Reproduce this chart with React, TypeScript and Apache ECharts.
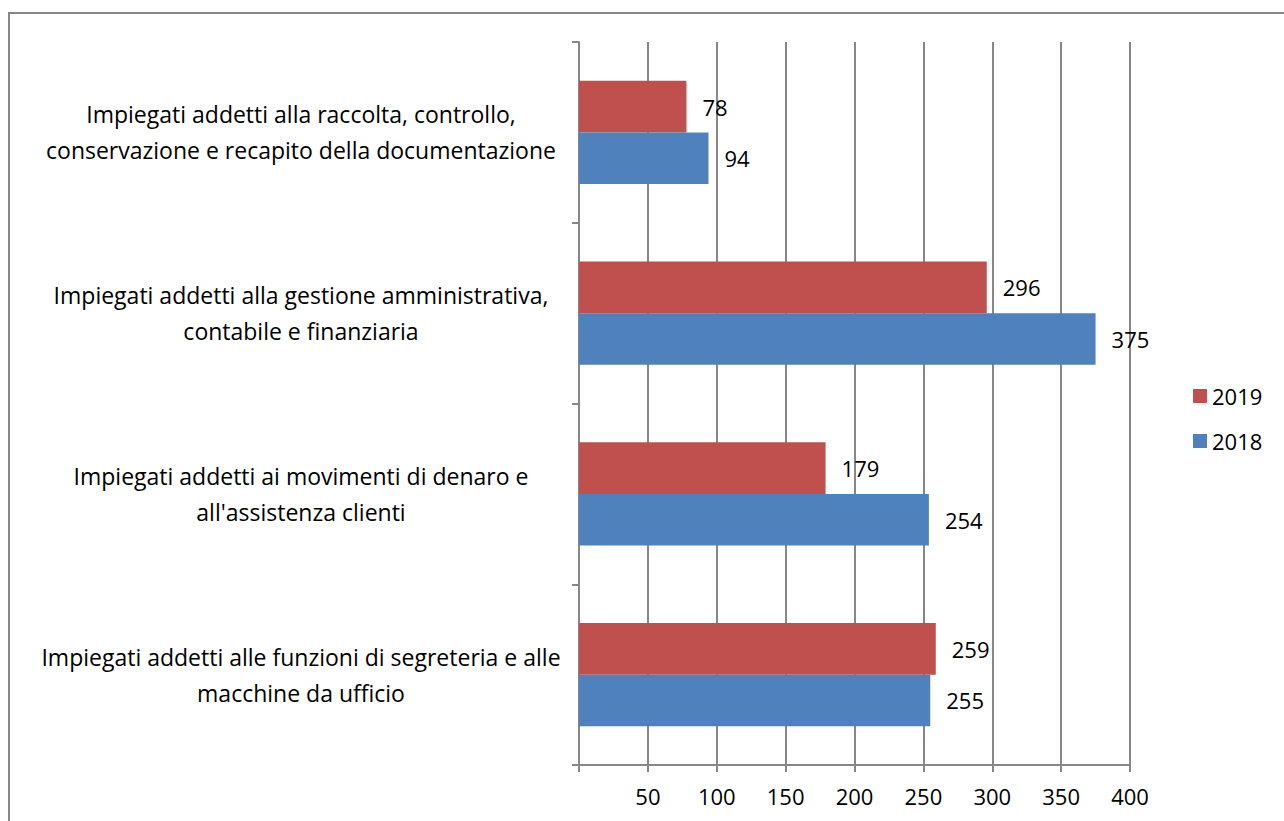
import React, { useEffect, useRef } from "react";
import * as echarts from "echarts";

const categories = [
  "Impiegati addetti alle funzioni di segreteria e alle\nmacchine da ufficio",
  "Impiegati addetti ai movimenti di denaro e\nall'assistenza clienti",
  "Impiegati addetti alla gestione amministrativa,\ncontabile e finanziaria",
  "Impiegati addetti alla raccolta, controllo,\nconservazione e recapito della documentazione",
];
const values2018 = [255, 254, 375, 94];
const values2019 = [259, 179, 296, 78];
const xTicks = [0, 50, 100, 150, 200, 250, 300, 350, 400];

const FONT = "'Open Sans', 'Noto Sans', sans-serif";
const GRAY = "#878787";

export default function App() {
  const ref = useRef<HTMLDivElement>(null);
  useEffect(() => {
    if (!ref.current) return;
    const chart = echarts.init(ref.current, undefined, { renderer: "svg" });
    const labelStyle = {
      show: true,
      position: "right" as const,
      distance: 16,
      color: "#000",
      fontSize: 22,
      fontFamily: FONT,
    };
    chart.setOption({
      animation: false,
      backgroundColor: "#fff",
      textStyle: { fontFamily: FONT },
      graphic: [
        {
          type: "rect",
          shape: { x: 9, y: 13, width: 1300, height: 830 },
          style: { fill: "none", stroke: GRAY, lineWidth: 2 },
          silent: true,
        },
      ],
      grid: {
        left: 579,
        top: 42,
        right: 154,
        bottom: 56,
        containLabel: false,
        outerBoundsMode: "none",
      },
      legend: {
        orient: "vertical",
        left: 1188,
        top: 380,
        itemWidth: 14,
        itemHeight: 14,
        itemGap: 23,
        icon: "rect",
        data: ["2019", "2018"],
        textStyle: { fontSize: 22, color: "#000", fontFamily: FONT },
      },
      xAxis: {
        type: "value",
        min: xTicks[0],
        max: xTicks[xTicks.length - 1],
        interval: 50,
        axisLine: { show: true, lineStyle: { color: GRAY, width: 2 } },
        axisTick: { show: true, length: 7, lineStyle: { color: GRAY, width: 2 } },
        splitLine: { show: true, lineStyle: { color: GRAY, width: 2 } },
        axisLabel: {
          margin: 20,
          fontSize: 22,
          color: "#000",
          fontFamily: FONT,
          formatter: (v: number) => (v === 0 ? "" : String(v)),
        },
      },
      yAxis: {
        type: "category",
        data: categories,
        axisLine: { show: true, lineStyle: { color: GRAY, width: 2 } },
        axisTick: { show: true, length: 7, lineStyle: { color: GRAY, width: 2 } },
        axisLabel: {
          margin: 278,
          align: "center",
          fontSize: 23,
          lineHeight: 36,
          color: "#000",
          fontFamily: FONT,
        },
      },
      series: [
        {
          name: "2019",
          type: "bar",
          data: values2019,
          itemStyle: { color: "#C0504D" },
          barGap: "0%",
          barCategoryGap: "42.8%",
          label: labelStyle,
        },
        {
          name: "2018",
          type: "bar",
          data: values2018,
          itemStyle: { color: "#4F81BD" },
          barGap: "0%",
          barCategoryGap: "42.8%",
          label: labelStyle,
        },
      ],
    });
    return () => chart.dispose();
  }, []);
  return (
    <div
      ref={ref}
      style={{ position: "fixed", left: 0, top: 0, width: 1284, height: 821 }}
    />
  );
}
